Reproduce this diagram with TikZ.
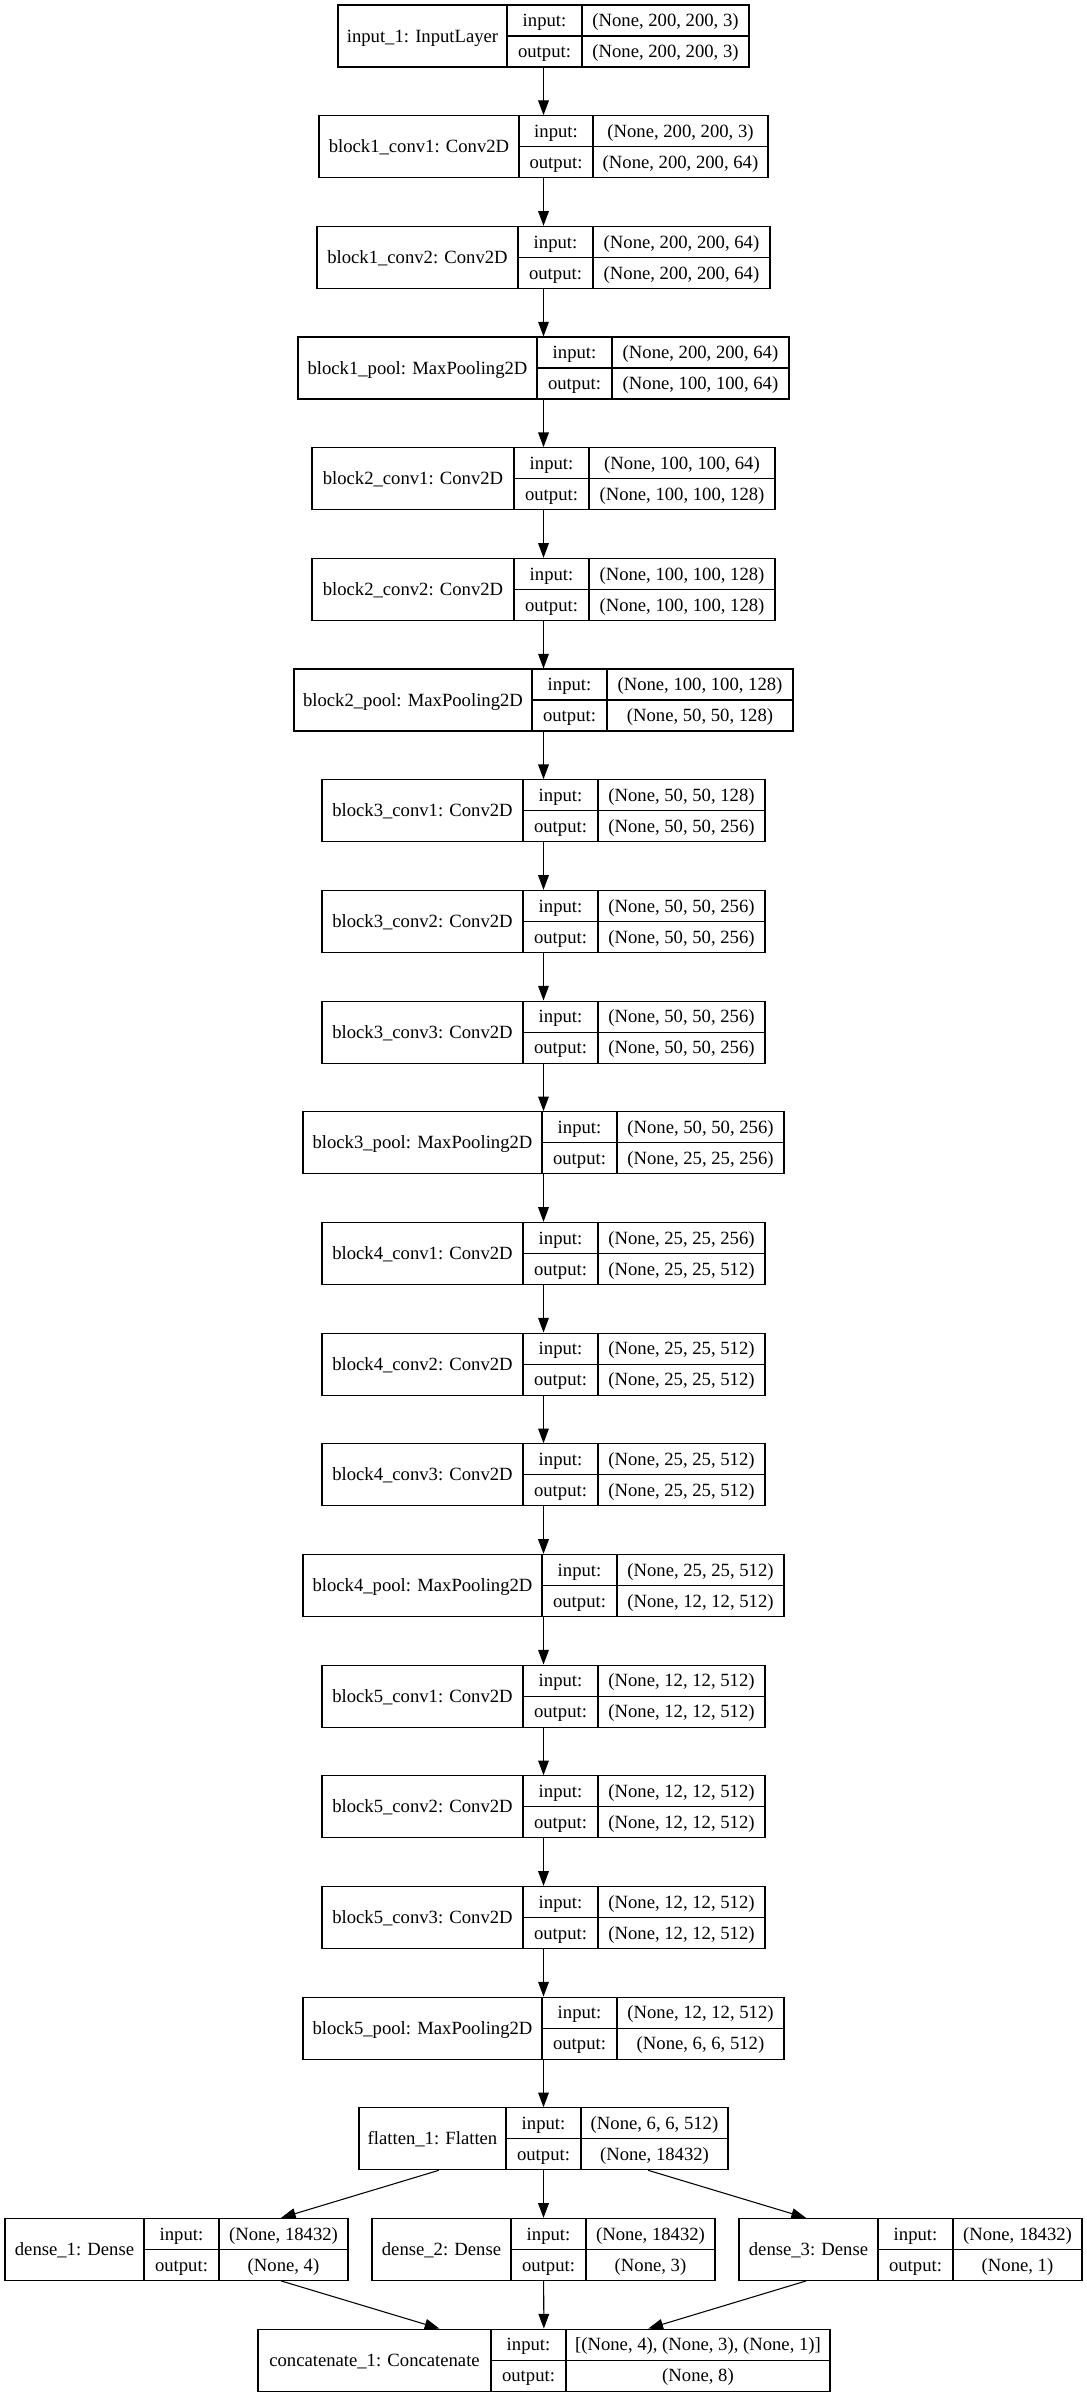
\documentclass[tikz,border=0pt]{standalone}
\usepackage{fontspec}
\setmainfont{Liberation Serif}
\usetikzlibrary{arrows.meta}

% one keras layer record: name, row, left, rule 1, rule 2, right, label, input, output
\newcommand{\layer}[9]{%
  \pgfmathsetmacro{\ytop}{5+110.67*#2}
  \node[layerbox, minimum width={(#6-#3)*0.75pt}] (#1) at ({(#3+#6)/2},{\ytop+31}) {};
  \draw (#4,\ytop) -- (#4,\ytop+62);
  \draw (#5,\ytop) -- (#5,\ytop+62);
  \draw (#4,\ytop+31) -- (#6,\ytop+31);
  \node[txt] at ({(#3+#4)/2},\ytop+37.2) {#7};
  \node[txt] at ({(#4+#5)/2},\ytop+21.7) {input:};
  \node[txt] at ({(#4+#5)/2},\ytop+52.7) {output:};
  \node[txt] at ({(#5+#6)/2},\ytop+21.7) {#8};
  \node[txt] at ({(#5+#6)/2},\ytop+52.7) {#9};
}

\begin{document}
\begin{tikzpicture}[x=0.75pt,y=-0.75pt,line width=0.8pt,
    layerbox/.style={draw,rectangle,inner sep=0pt,minimum height=46.5pt},
    txt/.style={anchor=base,inner sep=0pt,font=\fontsize{14pt}{17pt}\selectfont},
    arr/.style={-{Triangle[length=11pt,width=8pt]}}]
  \useasboundingbox (0,0) rectangle (1087,2397);

  \layer{input1}{0}{338}{507}{582}{749}{input\_1: InputLayer}{(None, 200, 200, 3)}{(None, 200, 200, 3)}
  \layer{b1conv1}{1}{319}{519}{593}{768}{block1\_conv1: Conv2D}{(None, 200, 200, 3)}{(None, 200, 200, 64)}
  \layer{b1conv2}{2}{317}{518}{593}{770}{block1\_conv2: Conv2D}{(None, 200, 200, 64)}{(None, 200, 200, 64)}
  \layer{b1pool}{3}{298}{537}{612}{789}{block1\_pool: MaxPooling2D}{(None, 200, 200, 64)}{(None, 100, 100, 64)}
  \layer{b2conv1}{4}{312}{514}{589}{775}{block2\_conv1: Conv2D}{(None, 100, 100, 64)}{(None, 100, 100, 128)}
  \layer{b2conv2}{5}{312}{514}{589}{775}{block2\_conv2: Conv2D}{(None, 100, 100, 128)}{(None, 100, 100, 128)}
  \layer{b2pool}{6}{294}{532}{607}{793}{block2\_pool: MaxPooling2D}{(None, 100, 100, 128)}{(None, 50, 50, 128)}
  \layer{b3conv1}{7}{322}{523}{598}{765}{block3\_conv1: Conv2D}{(None, 50, 50, 128)}{(None, 50, 50, 256)}
  \layer{b3conv2}{8}{322}{523}{598}{765}{block3\_conv2: Conv2D}{(None, 50, 50, 256)}{(None, 50, 50, 256)}
  \layer{b3conv3}{9}{322}{523}{598}{765}{block3\_conv3: Conv2D}{(None, 50, 50, 256)}{(None, 50, 50, 256)}
  \layer{b3pool}{10}{303}{542}{617}{784}{block3\_pool: MaxPooling2D}{(None, 50, 50, 256)}{(None, 25, 25, 256)}
  \layer{b4conv1}{11}{322}{523}{598}{765}{block4\_conv1: Conv2D}{(None, 25, 25, 256)}{(None, 25, 25, 512)}
  \layer{b4conv2}{12}{322}{523}{598}{765}{block4\_conv2: Conv2D}{(None, 25, 25, 512)}{(None, 25, 25, 512)}
  \layer{b4conv3}{13}{322}{523}{598}{765}{block4\_conv3: Conv2D}{(None, 25, 25, 512)}{(None, 25, 25, 512)}
  \layer{b4pool}{14}{303}{542}{617}{784}{block4\_pool: MaxPooling2D}{(None, 25, 25, 512)}{(None, 12, 12, 512)}
  \layer{b5conv1}{15}{322}{523}{598}{765}{block5\_conv1: Conv2D}{(None, 12, 12, 512)}{(None, 12, 12, 512)}
  \layer{b5conv2}{16}{322}{523}{598}{765}{block5\_conv2: Conv2D}{(None, 12, 12, 512)}{(None, 12, 12, 512)}
  \layer{b5conv3}{17}{322}{523}{598}{765}{block5\_conv3: Conv2D}{(None, 12, 12, 512)}{(None, 12, 12, 512)}
  \layer{b5pool}{18}{303}{542}{617}{784}{block5\_pool: MaxPooling2D}{(None, 12, 12, 512)}{(None, 6, 6, 512)}
  \layer{flatten1}{19}{359}{506}{581}{728}{flatten\_1: Flatten}{(None, 6, 6, 512)}{(None, 18432)}
  % three heads
  \layer{dense1}{20}{5}{144}{219}{348}{dense\_1: Dense}{(None, 18432)}{(None, 4)}
  \layer{dense2}{20}{372}{511}{586}{715}{dense\_2: Dense}{(None, 18432)}{(None, 3)}
  \layer{dense3}{20}{739}{878}{953}{1082}{dense\_3: Dense}{(None, 18432)}{(None, 1)}
  \layer{concat1}{21}{258}{491}{566}{830}{concatenate\_1: Concatenate}{[(None, 4), (None, 3), (None, 1)]}{(None, 8)}

  \foreach \a/\b in {input1/b1conv1, b1conv1/b1conv2, b1conv2/b1pool, b1pool/b2conv1,
      b2conv1/b2conv2, b2conv2/b2pool, b2pool/b3conv1, b3conv1/b3conv2, b3conv2/b3conv3,
      b3conv3/b3pool, b3pool/b4conv1, b4conv1/b4conv2, b4conv2/b4conv3, b4conv3/b4pool,
      b4pool/b5conv1, b5conv1/b5conv2, b5conv2/b5conv3, b5conv3/b5pool, b5pool/flatten1,
      flatten1/dense1, flatten1/dense2, flatten1/dense3,
      dense1/concat1, dense2/concat1, dense3/concat1}
    \draw[arr] (\a) -- (\b);
\end{tikzpicture}
\end{document}
